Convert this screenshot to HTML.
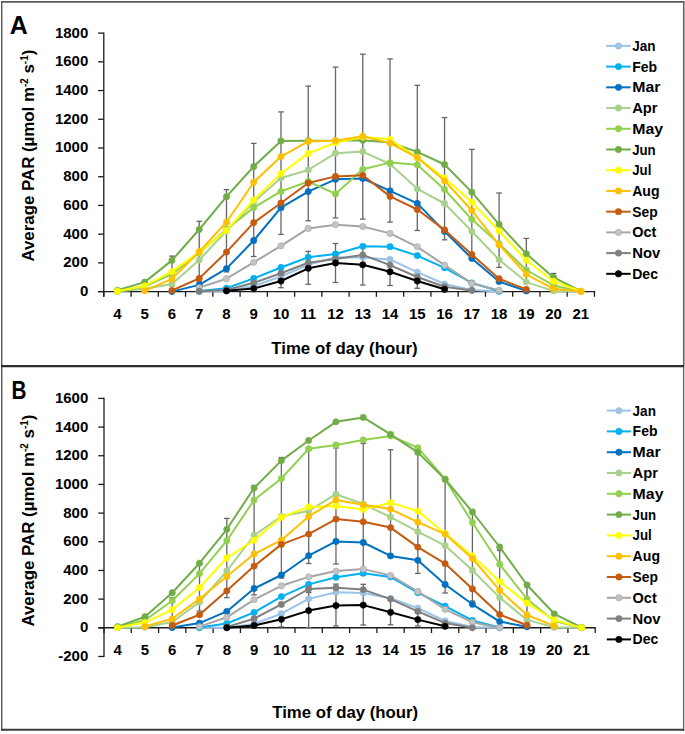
<!DOCTYPE html><html><head><meta charset="utf-8"><style>html,body{margin:0;padding:0;background:#fff;}svg{display:block;}text{font-family:"Liberation Sans",sans-serif;font-weight:bold;fill:#000;}</style></head><body>
<svg width="685" height="734" viewBox="0 0 685 734">
<rect x="0" y="0" width="685" height="734" fill="#fff"/>
<rect x="684" y="1" width="1" height="365" fill="#a8a8a8"/>
<rect x="684" y="366" width="1" height="365" fill="#d2d2d2"/>
<line x1="683.5" y1="1" x2="683.5" y2="730.8" stroke="#666" stroke-width="1.1"/>
<line x1="1.75" y1="1" x2="1.75" y2="730.8" stroke="#4a4a4a" stroke-width="1.3"/>
<line x1="1" y1="1.9" x2="684" y2="1.9" stroke="#5a5a5a" stroke-width="1.6"/>
<line x1="1" y1="729.8" x2="684" y2="729.8" stroke="#3c3c3c" stroke-width="2"/>
<line x1="1" y1="366.1" x2="684" y2="366.1" stroke="#2b2b2b" stroke-width="2.2"/>
<text x="9.7" y="33.7" font-size="25" textLength="18" lengthAdjust="spacingAndGlyphs">A</text>
<line x1="103.8" y1="32.5" x2="103.8" y2="296.8" stroke="#1c1c1c" stroke-width="1.3"/>
<line x1="98.1" y1="291.6" x2="103.8" y2="291.6" stroke="#1c1c1c" stroke-width="1.3"/>
<text x="88.3" y="296" font-size="15" text-anchor="end">0</text>
<line x1="98.1" y1="262.88" x2="103.8" y2="262.88" stroke="#1c1c1c" stroke-width="1.3"/>
<text x="88.3" y="267" font-size="15" text-anchor="end">200</text>
<line x1="98.1" y1="234.16" x2="103.8" y2="234.16" stroke="#1c1c1c" stroke-width="1.3"/>
<text x="88.3" y="239" font-size="15" text-anchor="end">400</text>
<line x1="98.1" y1="205.43" x2="103.8" y2="205.43" stroke="#1c1c1c" stroke-width="1.3"/>
<text x="88.3" y="210" font-size="15" text-anchor="end">600</text>
<line x1="98.1" y1="176.71" x2="103.8" y2="176.71" stroke="#1c1c1c" stroke-width="1.3"/>
<text x="88.3" y="181" font-size="15" text-anchor="end">800</text>
<line x1="98.1" y1="147.99" x2="103.8" y2="147.99" stroke="#1c1c1c" stroke-width="1.3"/>
<text x="88.3" y="152" font-size="15" text-anchor="end">1000</text>
<line x1="98.1" y1="119.27" x2="103.8" y2="119.27" stroke="#1c1c1c" stroke-width="1.3"/>
<text x="88.3" y="124" font-size="15" text-anchor="end">1200</text>
<line x1="98.1" y1="90.54" x2="103.8" y2="90.54" stroke="#1c1c1c" stroke-width="1.3"/>
<text x="88.3" y="95" font-size="15" text-anchor="end">1400</text>
<line x1="98.1" y1="61.82" x2="103.8" y2="61.82" stroke="#1c1c1c" stroke-width="1.3"/>
<text x="88.3" y="66" font-size="15" text-anchor="end">1600</text>
<line x1="98.1" y1="33.1" x2="103.8" y2="33.1" stroke="#1c1c1c" stroke-width="1.3"/>
<text x="88.3" y="38" font-size="15" text-anchor="end">1800</text>
<line x1="98.1" y1="291.6" x2="595.08" y2="291.6" stroke="#1c1c1c" stroke-width="1.4"/>
<line x1="103.8" y1="291.6" x2="103.8" y2="296.8" stroke="#1c1c1c" stroke-width="1.3"/>
<line x1="131.06" y1="291.6" x2="131.06" y2="296.8" stroke="#1c1c1c" stroke-width="1.3"/>
<line x1="158.32" y1="291.6" x2="158.32" y2="296.8" stroke="#1c1c1c" stroke-width="1.3"/>
<line x1="185.58" y1="291.6" x2="185.58" y2="296.8" stroke="#1c1c1c" stroke-width="1.3"/>
<line x1="212.84" y1="291.6" x2="212.84" y2="296.8" stroke="#1c1c1c" stroke-width="1.3"/>
<line x1="240.1" y1="291.6" x2="240.1" y2="296.8" stroke="#1c1c1c" stroke-width="1.3"/>
<line x1="267.36" y1="291.6" x2="267.36" y2="296.8" stroke="#1c1c1c" stroke-width="1.3"/>
<line x1="294.62" y1="291.6" x2="294.62" y2="296.8" stroke="#1c1c1c" stroke-width="1.3"/>
<line x1="321.88" y1="291.6" x2="321.88" y2="296.8" stroke="#1c1c1c" stroke-width="1.3"/>
<line x1="349.14" y1="291.6" x2="349.14" y2="296.8" stroke="#1c1c1c" stroke-width="1.3"/>
<line x1="376.4" y1="291.6" x2="376.4" y2="296.8" stroke="#1c1c1c" stroke-width="1.3"/>
<line x1="403.66" y1="291.6" x2="403.66" y2="296.8" stroke="#1c1c1c" stroke-width="1.3"/>
<line x1="430.92" y1="291.6" x2="430.92" y2="296.8" stroke="#1c1c1c" stroke-width="1.3"/>
<line x1="458.18" y1="291.6" x2="458.18" y2="296.8" stroke="#1c1c1c" stroke-width="1.3"/>
<line x1="485.44" y1="291.6" x2="485.44" y2="296.8" stroke="#1c1c1c" stroke-width="1.3"/>
<line x1="512.7" y1="291.6" x2="512.7" y2="296.8" stroke="#1c1c1c" stroke-width="1.3"/>
<line x1="539.96" y1="291.6" x2="539.96" y2="296.8" stroke="#1c1c1c" stroke-width="1.3"/>
<line x1="567.22" y1="291.6" x2="567.22" y2="296.8" stroke="#1c1c1c" stroke-width="1.3"/>
<line x1="594.48" y1="291.6" x2="594.48" y2="296.8" stroke="#1c1c1c" stroke-width="1.3"/>
<text x="117.43" y="319.2" font-size="15" text-anchor="middle">4</text>
<text x="144.69" y="319.2" font-size="15" text-anchor="middle">5</text>
<text x="171.95" y="319.2" font-size="15" text-anchor="middle">6</text>
<text x="199.21" y="319.2" font-size="15" text-anchor="middle">7</text>
<text x="226.47" y="319.2" font-size="15" text-anchor="middle">8</text>
<text x="253.73" y="319.2" font-size="15" text-anchor="middle">9</text>
<text x="280.99" y="319.2" font-size="15" text-anchor="middle">10</text>
<text x="308.25" y="319.2" font-size="15" text-anchor="middle">11</text>
<text x="335.51" y="319.2" font-size="15" text-anchor="middle">12</text>
<text x="362.77" y="319.2" font-size="15" text-anchor="middle">13</text>
<text x="390.03" y="319.2" font-size="15" text-anchor="middle">14</text>
<text x="417.29" y="319.2" font-size="15" text-anchor="middle">15</text>
<text x="444.55" y="319.2" font-size="15" text-anchor="middle">16</text>
<text x="471.81" y="319.2" font-size="15" text-anchor="middle">17</text>
<text x="499.07" y="319.2" font-size="15" text-anchor="middle">18</text>
<text x="526.33" y="319.2" font-size="15" text-anchor="middle">19</text>
<text x="553.59" y="319.2" font-size="15" text-anchor="middle">20</text>
<text x="580.85" y="319.2" font-size="15" text-anchor="middle">21</text>
<text x="271.3" y="353.5" font-size="17" textLength="146.3" lengthAdjust="spacingAndGlyphs">Time of day (hour)</text>
<text transform="translate(33.8,261.6) rotate(-90)" x="0" y="0" font-size="17" textLength="211.9" lengthAdjust="spacingAndGlyphs">Average PAR (µmol m<tspan font-size="10" dy="-5.5">-2</tspan><tspan dy="5.5"> s</tspan><tspan font-size="10" dy="-5.5">-1</tspan><tspan dy="5.5">)</tspan></text>
<line x1="171.95" y1="256.1" x2="171.95" y2="286.1" stroke="#666666" stroke-width="1.3"/>
<line x1="169.15" y1="256.1" x2="174.75" y2="256.1" stroke="#666666" stroke-width="1.3"/>
<line x1="169.15" y1="286.1" x2="174.75" y2="286.1" stroke="#666666" stroke-width="1.3"/>
<line x1="199.21" y1="221.3" x2="199.21" y2="281.7" stroke="#666666" stroke-width="1.3"/>
<line x1="196.41" y1="221.3" x2="202.01" y2="221.3" stroke="#666666" stroke-width="1.3"/>
<line x1="196.41" y1="281.7" x2="202.01" y2="281.7" stroke="#666666" stroke-width="1.3"/>
<line x1="226.47" y1="189.6" x2="226.47" y2="271.9" stroke="#666666" stroke-width="1.3"/>
<line x1="223.67" y1="189.6" x2="229.27" y2="189.6" stroke="#666666" stroke-width="1.3"/>
<line x1="223.67" y1="271.9" x2="229.27" y2="271.9" stroke="#666666" stroke-width="1.3"/>
<line x1="253.73" y1="143.4" x2="253.73" y2="256.5" stroke="#666666" stroke-width="1.3"/>
<line x1="250.93" y1="143.4" x2="256.53" y2="143.4" stroke="#666666" stroke-width="1.3"/>
<line x1="250.93" y1="256.5" x2="256.53" y2="256.5" stroke="#666666" stroke-width="1.3"/>
<line x1="280.99" y1="111.9" x2="280.99" y2="234.4" stroke="#666666" stroke-width="1.3"/>
<line x1="278.19" y1="111.9" x2="283.79" y2="111.9" stroke="#666666" stroke-width="1.3"/>
<line x1="278.19" y1="234.4" x2="283.79" y2="234.4" stroke="#666666" stroke-width="1.3"/>
<line x1="308.25" y1="86.1" x2="308.25" y2="220.8" stroke="#666666" stroke-width="1.3"/>
<line x1="305.45" y1="86.1" x2="311.05" y2="86.1" stroke="#666666" stroke-width="1.3"/>
<line x1="305.45" y1="220.8" x2="311.05" y2="220.8" stroke="#666666" stroke-width="1.3"/>
<line x1="335.51" y1="67.1" x2="335.51" y2="217.9" stroke="#666666" stroke-width="1.3"/>
<line x1="332.71" y1="67.1" x2="338.31" y2="67.1" stroke="#666666" stroke-width="1.3"/>
<line x1="332.71" y1="217.9" x2="338.31" y2="217.9" stroke="#666666" stroke-width="1.3"/>
<line x1="362.77" y1="54.2" x2="362.77" y2="219.1" stroke="#666666" stroke-width="1.3"/>
<line x1="359.97" y1="54.2" x2="365.57" y2="54.2" stroke="#666666" stroke-width="1.3"/>
<line x1="359.97" y1="219.1" x2="365.57" y2="219.1" stroke="#666666" stroke-width="1.3"/>
<line x1="390.03" y1="58.9" x2="390.03" y2="222.1" stroke="#666666" stroke-width="1.3"/>
<line x1="387.23" y1="58.9" x2="392.83" y2="58.9" stroke="#666666" stroke-width="1.3"/>
<line x1="387.23" y1="222.1" x2="392.83" y2="222.1" stroke="#666666" stroke-width="1.3"/>
<line x1="417.29" y1="85.3" x2="417.29" y2="230.5" stroke="#666666" stroke-width="1.3"/>
<line x1="414.49" y1="85.3" x2="420.09" y2="85.3" stroke="#666666" stroke-width="1.3"/>
<line x1="414.49" y1="230.5" x2="420.09" y2="230.5" stroke="#666666" stroke-width="1.3"/>
<line x1="444.55" y1="117.6" x2="444.55" y2="239.8" stroke="#666666" stroke-width="1.3"/>
<line x1="441.75" y1="117.6" x2="447.35" y2="117.6" stroke="#666666" stroke-width="1.3"/>
<line x1="441.75" y1="239.8" x2="447.35" y2="239.8" stroke="#666666" stroke-width="1.3"/>
<line x1="471.81" y1="149.4" x2="471.81" y2="254.8" stroke="#666666" stroke-width="1.3"/>
<line x1="469.01" y1="149.4" x2="474.61" y2="149.4" stroke="#666666" stroke-width="1.3"/>
<line x1="469.01" y1="254.8" x2="474.61" y2="254.8" stroke="#666666" stroke-width="1.3"/>
<line x1="499.07" y1="193" x2="499.07" y2="267.4" stroke="#666666" stroke-width="1.3"/>
<line x1="496.27" y1="193" x2="501.87" y2="193" stroke="#666666" stroke-width="1.3"/>
<line x1="496.27" y1="267.4" x2="501.87" y2="267.4" stroke="#666666" stroke-width="1.3"/>
<line x1="526.33" y1="238.4" x2="526.33" y2="282" stroke="#666666" stroke-width="1.3"/>
<line x1="523.53" y1="238.4" x2="529.13" y2="238.4" stroke="#666666" stroke-width="1.3"/>
<line x1="523.53" y1="282" x2="529.13" y2="282" stroke="#666666" stroke-width="1.3"/>
<line x1="553.59" y1="273.5" x2="553.59" y2="289" stroke="#666666" stroke-width="1.3"/>
<line x1="550.79" y1="273.5" x2="556.39" y2="273.5" stroke="#666666" stroke-width="1.3"/>
<line x1="550.79" y1="289" x2="556.39" y2="289" stroke="#666666" stroke-width="1.3"/>
<line x1="253.73" y1="285.6" x2="253.73" y2="291.6" stroke="#666666" stroke-width="1.3"/>
<line x1="250.93" y1="285.6" x2="256.53" y2="285.6" stroke="#666666" stroke-width="1.3"/>
<line x1="250.93" y1="291.6" x2="256.53" y2="291.6" stroke="#666666" stroke-width="1.3"/>
<line x1="280.99" y1="274.3" x2="280.99" y2="287.7" stroke="#666666" stroke-width="1.3"/>
<line x1="278.19" y1="274.3" x2="283.79" y2="274.3" stroke="#666666" stroke-width="1.3"/>
<line x1="278.19" y1="287.7" x2="283.79" y2="287.7" stroke="#666666" stroke-width="1.3"/>
<line x1="308.25" y1="251.4" x2="308.25" y2="284.3" stroke="#666666" stroke-width="1.3"/>
<line x1="305.45" y1="251.4" x2="311.05" y2="251.4" stroke="#666666" stroke-width="1.3"/>
<line x1="305.45" y1="284.3" x2="311.05" y2="284.3" stroke="#666666" stroke-width="1.3"/>
<line x1="335.51" y1="243.5" x2="335.51" y2="282.5" stroke="#666666" stroke-width="1.3"/>
<line x1="332.71" y1="243.5" x2="338.31" y2="243.5" stroke="#666666" stroke-width="1.3"/>
<line x1="332.71" y1="282.5" x2="338.31" y2="282.5" stroke="#666666" stroke-width="1.3"/>
<line x1="362.77" y1="244.6" x2="362.77" y2="285" stroke="#666666" stroke-width="1.3"/>
<line x1="359.97" y1="244.6" x2="365.57" y2="244.6" stroke="#666666" stroke-width="1.3"/>
<line x1="359.97" y1="285" x2="365.57" y2="285" stroke="#666666" stroke-width="1.3"/>
<line x1="390.03" y1="258.1" x2="390.03" y2="285.5" stroke="#666666" stroke-width="1.3"/>
<line x1="387.23" y1="258.1" x2="392.83" y2="258.1" stroke="#666666" stroke-width="1.3"/>
<line x1="387.23" y1="285.5" x2="392.83" y2="285.5" stroke="#666666" stroke-width="1.3"/>
<line x1="417.29" y1="273.7" x2="417.29" y2="288.3" stroke="#666666" stroke-width="1.3"/>
<line x1="414.49" y1="273.7" x2="420.09" y2="273.7" stroke="#666666" stroke-width="1.3"/>
<line x1="414.49" y1="288.3" x2="420.09" y2="288.3" stroke="#666666" stroke-width="1.3"/>
<line x1="444.55" y1="286.5" x2="444.55" y2="291.6" stroke="#666666" stroke-width="1.3"/>
<line x1="441.75" y1="286.5" x2="447.35" y2="286.5" stroke="#666666" stroke-width="1.3"/>
<line x1="441.75" y1="291.6" x2="447.35" y2="291.6" stroke="#666666" stroke-width="1.3"/>
<polyline points="199.21,291.6 226.47,291 253.73,286 280.99,276.5 308.25,264.8 335.51,257.3 362.77,257.4 390.03,259.5 417.29,272.2 444.55,284 471.81,290 499.07,291.6" fill="none" stroke="#9DC3E6" stroke-width="2" stroke-linejoin="round"/>
<circle cx="199.21" cy="291.6" r="3.15" fill="#9DC3E6" stroke="#9DC3E6" stroke-width="0.6"/>
<circle cx="226.47" cy="291" r="3.15" fill="#9DC3E6" stroke="#9DC3E6" stroke-width="0.6"/>
<circle cx="253.73" cy="286" r="3.15" fill="#9DC3E6" stroke="#9DC3E6" stroke-width="0.6"/>
<circle cx="280.99" cy="276.5" r="3.15" fill="#9DC3E6" stroke="#9DC3E6" stroke-width="0.6"/>
<circle cx="308.25" cy="264.8" r="3.15" fill="#9DC3E6" stroke="#9DC3E6" stroke-width="0.6"/>
<circle cx="335.51" cy="257.3" r="3.15" fill="#9DC3E6" stroke="#9DC3E6" stroke-width="0.6"/>
<circle cx="362.77" cy="257.4" r="3.15" fill="#9DC3E6" stroke="#9DC3E6" stroke-width="0.6"/>
<circle cx="390.03" cy="259.5" r="3.15" fill="#9DC3E6" stroke="#9DC3E6" stroke-width="0.6"/>
<circle cx="417.29" cy="272.2" r="3.15" fill="#9DC3E6" stroke="#9DC3E6" stroke-width="0.6"/>
<circle cx="444.55" cy="284" r="3.15" fill="#9DC3E6" stroke="#9DC3E6" stroke-width="0.6"/>
<circle cx="471.81" cy="290" r="3.15" fill="#9DC3E6" stroke="#9DC3E6" stroke-width="0.6"/>
<circle cx="499.07" cy="291.6" r="3.15" fill="#9DC3E6" stroke="#9DC3E6" stroke-width="0.6"/>
<polyline points="199.21,291 226.47,288.2 253.73,278.4 280.99,267.5 308.25,257.2 335.51,254 362.77,246.3 390.03,246.7 417.29,255.6 444.55,267.8 471.81,283 499.07,291" fill="none" stroke="#00B0F0" stroke-width="2" stroke-linejoin="round"/>
<circle cx="199.21" cy="291" r="3.15" fill="#00B0F0" stroke="#00B0F0" stroke-width="0.6"/>
<circle cx="226.47" cy="288.2" r="3.15" fill="#00B0F0" stroke="#00B0F0" stroke-width="0.6"/>
<circle cx="253.73" cy="278.4" r="3.15" fill="#00B0F0" stroke="#00B0F0" stroke-width="0.6"/>
<circle cx="280.99" cy="267.5" r="3.15" fill="#00B0F0" stroke="#00B0F0" stroke-width="0.6"/>
<circle cx="308.25" cy="257.2" r="3.15" fill="#00B0F0" stroke="#00B0F0" stroke-width="0.6"/>
<circle cx="335.51" cy="254" r="3.15" fill="#00B0F0" stroke="#00B0F0" stroke-width="0.6"/>
<circle cx="362.77" cy="246.3" r="3.15" fill="#00B0F0" stroke="#00B0F0" stroke-width="0.6"/>
<circle cx="390.03" cy="246.7" r="3.15" fill="#00B0F0" stroke="#00B0F0" stroke-width="0.6"/>
<circle cx="417.29" cy="255.6" r="3.15" fill="#00B0F0" stroke="#00B0F0" stroke-width="0.6"/>
<circle cx="444.55" cy="267.8" r="3.15" fill="#00B0F0" stroke="#00B0F0" stroke-width="0.6"/>
<circle cx="471.81" cy="283" r="3.15" fill="#00B0F0" stroke="#00B0F0" stroke-width="0.6"/>
<circle cx="499.07" cy="291" r="3.15" fill="#00B0F0" stroke="#00B0F0" stroke-width="0.6"/>
<polyline points="171.95,291.6 199.21,284.9 226.47,268.6 253.73,240.5 280.99,207.7 308.25,191.6 335.51,179.3 362.77,178.5 390.03,190.8 417.29,203.4 444.55,231.4 471.81,258.4 499.07,281.6 526.33,290.9" fill="none" stroke="#0070C0" stroke-width="2" stroke-linejoin="round"/>
<circle cx="171.95" cy="291.6" r="3.15" fill="#0070C0" stroke="#0070C0" stroke-width="0.6"/>
<circle cx="199.21" cy="284.9" r="3.15" fill="#0070C0" stroke="#0070C0" stroke-width="0.6"/>
<circle cx="226.47" cy="268.6" r="3.15" fill="#0070C0" stroke="#0070C0" stroke-width="0.6"/>
<circle cx="253.73" cy="240.5" r="3.15" fill="#0070C0" stroke="#0070C0" stroke-width="0.6"/>
<circle cx="280.99" cy="207.7" r="3.15" fill="#0070C0" stroke="#0070C0" stroke-width="0.6"/>
<circle cx="308.25" cy="191.6" r="3.15" fill="#0070C0" stroke="#0070C0" stroke-width="0.6"/>
<circle cx="335.51" cy="179.3" r="3.15" fill="#0070C0" stroke="#0070C0" stroke-width="0.6"/>
<circle cx="362.77" cy="178.5" r="3.15" fill="#0070C0" stroke="#0070C0" stroke-width="0.6"/>
<circle cx="390.03" cy="190.8" r="3.15" fill="#0070C0" stroke="#0070C0" stroke-width="0.6"/>
<circle cx="417.29" cy="203.4" r="3.15" fill="#0070C0" stroke="#0070C0" stroke-width="0.6"/>
<circle cx="444.55" cy="231.4" r="3.15" fill="#0070C0" stroke="#0070C0" stroke-width="0.6"/>
<circle cx="471.81" cy="258.4" r="3.15" fill="#0070C0" stroke="#0070C0" stroke-width="0.6"/>
<circle cx="499.07" cy="281.6" r="3.15" fill="#0070C0" stroke="#0070C0" stroke-width="0.6"/>
<circle cx="526.33" cy="290.9" r="3.15" fill="#0070C0" stroke="#0070C0" stroke-width="0.6"/>
<polyline points="117.43,291.4 144.69,288.8 171.95,284 199.21,260 226.47,231 253.73,202 280.99,178 308.25,170 335.51,153.2 362.77,151.6 390.03,164 417.29,188.8 444.55,203.5 471.81,231.3 499.07,259.7 526.33,282.1 553.59,290.9 580.85,291.5" fill="none" stroke="#A9D18E" stroke-width="2" stroke-linejoin="round"/>
<circle cx="117.43" cy="291.4" r="3.15" fill="#A9D18E" stroke="#A9D18E" stroke-width="0.6"/>
<circle cx="144.69" cy="288.8" r="3.15" fill="#A9D18E" stroke="#A9D18E" stroke-width="0.6"/>
<circle cx="171.95" cy="284" r="3.15" fill="#A9D18E" stroke="#A9D18E" stroke-width="0.6"/>
<circle cx="199.21" cy="260" r="3.15" fill="#A9D18E" stroke="#A9D18E" stroke-width="0.6"/>
<circle cx="226.47" cy="231" r="3.15" fill="#A9D18E" stroke="#A9D18E" stroke-width="0.6"/>
<circle cx="253.73" cy="202" r="3.15" fill="#A9D18E" stroke="#A9D18E" stroke-width="0.6"/>
<circle cx="280.99" cy="178" r="3.15" fill="#A9D18E" stroke="#A9D18E" stroke-width="0.6"/>
<circle cx="308.25" cy="170" r="3.15" fill="#A9D18E" stroke="#A9D18E" stroke-width="0.6"/>
<circle cx="335.51" cy="153.2" r="3.15" fill="#A9D18E" stroke="#A9D18E" stroke-width="0.6"/>
<circle cx="362.77" cy="151.6" r="3.15" fill="#A9D18E" stroke="#A9D18E" stroke-width="0.6"/>
<circle cx="390.03" cy="164" r="3.15" fill="#A9D18E" stroke="#A9D18E" stroke-width="0.6"/>
<circle cx="417.29" cy="188.8" r="3.15" fill="#A9D18E" stroke="#A9D18E" stroke-width="0.6"/>
<circle cx="444.55" cy="203.5" r="3.15" fill="#A9D18E" stroke="#A9D18E" stroke-width="0.6"/>
<circle cx="471.81" cy="231.3" r="3.15" fill="#A9D18E" stroke="#A9D18E" stroke-width="0.6"/>
<circle cx="499.07" cy="259.7" r="3.15" fill="#A9D18E" stroke="#A9D18E" stroke-width="0.6"/>
<circle cx="526.33" cy="282.1" r="3.15" fill="#A9D18E" stroke="#A9D18E" stroke-width="0.6"/>
<circle cx="553.59" cy="290.9" r="3.15" fill="#A9D18E" stroke="#A9D18E" stroke-width="0.6"/>
<circle cx="580.85" cy="291.5" r="3.15" fill="#A9D18E" stroke="#A9D18E" stroke-width="0.6"/>
<polyline points="117.43,291.3 144.69,286.5 171.95,274.2 199.21,253 226.47,229.2 253.73,207.6 280.99,191.4 308.25,181.5 335.51,193.9 362.77,169.3 390.03,162.6 417.29,164.7 444.55,189.5 471.81,219.3 499.07,243.7 526.33,270 553.59,285.4 580.85,291.4" fill="none" stroke="#92D050" stroke-width="2" stroke-linejoin="round"/>
<circle cx="117.43" cy="291.3" r="3.15" fill="#92D050" stroke="#92D050" stroke-width="0.6"/>
<circle cx="144.69" cy="286.5" r="3.15" fill="#92D050" stroke="#92D050" stroke-width="0.6"/>
<circle cx="171.95" cy="274.2" r="3.15" fill="#92D050" stroke="#92D050" stroke-width="0.6"/>
<circle cx="199.21" cy="253" r="3.15" fill="#92D050" stroke="#92D050" stroke-width="0.6"/>
<circle cx="226.47" cy="229.2" r="3.15" fill="#92D050" stroke="#92D050" stroke-width="0.6"/>
<circle cx="253.73" cy="207.6" r="3.15" fill="#92D050" stroke="#92D050" stroke-width="0.6"/>
<circle cx="280.99" cy="191.4" r="3.15" fill="#92D050" stroke="#92D050" stroke-width="0.6"/>
<circle cx="308.25" cy="181.5" r="3.15" fill="#92D050" stroke="#92D050" stroke-width="0.6"/>
<circle cx="335.51" cy="193.9" r="3.15" fill="#92D050" stroke="#92D050" stroke-width="0.6"/>
<circle cx="362.77" cy="169.3" r="3.15" fill="#92D050" stroke="#92D050" stroke-width="0.6"/>
<circle cx="390.03" cy="162.6" r="3.15" fill="#92D050" stroke="#92D050" stroke-width="0.6"/>
<circle cx="417.29" cy="164.7" r="3.15" fill="#92D050" stroke="#92D050" stroke-width="0.6"/>
<circle cx="444.55" cy="189.5" r="3.15" fill="#92D050" stroke="#92D050" stroke-width="0.6"/>
<circle cx="471.81" cy="219.3" r="3.15" fill="#92D050" stroke="#92D050" stroke-width="0.6"/>
<circle cx="499.07" cy="243.7" r="3.15" fill="#92D050" stroke="#92D050" stroke-width="0.6"/>
<circle cx="526.33" cy="270" r="3.15" fill="#92D050" stroke="#92D050" stroke-width="0.6"/>
<circle cx="553.59" cy="285.4" r="3.15" fill="#92D050" stroke="#92D050" stroke-width="0.6"/>
<circle cx="580.85" cy="291.4" r="3.15" fill="#92D050" stroke="#92D050" stroke-width="0.6"/>
<polyline points="117.43,290.3 144.69,282.1 171.95,260.4 199.21,229.5 226.47,196.7 253.73,166.5 280.99,140.9 308.25,140.7 335.51,140.7 362.77,140.3 390.03,142.5 417.29,151.9 444.55,164.5 471.81,192.1 499.07,224.3 526.33,253.8 553.59,277.4 580.85,291.2" fill="none" stroke="#70AD47" stroke-width="2" stroke-linejoin="round"/>
<circle cx="117.43" cy="290.3" r="3.15" fill="#70AD47" stroke="#70AD47" stroke-width="0.6"/>
<circle cx="144.69" cy="282.1" r="3.15" fill="#70AD47" stroke="#70AD47" stroke-width="0.6"/>
<circle cx="171.95" cy="260.4" r="3.15" fill="#70AD47" stroke="#70AD47" stroke-width="0.6"/>
<circle cx="199.21" cy="229.5" r="3.15" fill="#70AD47" stroke="#70AD47" stroke-width="0.6"/>
<circle cx="226.47" cy="196.7" r="3.15" fill="#70AD47" stroke="#70AD47" stroke-width="0.6"/>
<circle cx="253.73" cy="166.5" r="3.15" fill="#70AD47" stroke="#70AD47" stroke-width="0.6"/>
<circle cx="280.99" cy="140.9" r="3.15" fill="#70AD47" stroke="#70AD47" stroke-width="0.6"/>
<circle cx="308.25" cy="140.7" r="3.15" fill="#70AD47" stroke="#70AD47" stroke-width="0.6"/>
<circle cx="335.51" cy="140.7" r="3.15" fill="#70AD47" stroke="#70AD47" stroke-width="0.6"/>
<circle cx="362.77" cy="140.3" r="3.15" fill="#70AD47" stroke="#70AD47" stroke-width="0.6"/>
<circle cx="390.03" cy="142.5" r="3.15" fill="#70AD47" stroke="#70AD47" stroke-width="0.6"/>
<circle cx="417.29" cy="151.9" r="3.15" fill="#70AD47" stroke="#70AD47" stroke-width="0.6"/>
<circle cx="444.55" cy="164.5" r="3.15" fill="#70AD47" stroke="#70AD47" stroke-width="0.6"/>
<circle cx="471.81" cy="192.1" r="3.15" fill="#70AD47" stroke="#70AD47" stroke-width="0.6"/>
<circle cx="499.07" cy="224.3" r="3.15" fill="#70AD47" stroke="#70AD47" stroke-width="0.6"/>
<circle cx="526.33" cy="253.8" r="3.15" fill="#70AD47" stroke="#70AD47" stroke-width="0.6"/>
<circle cx="553.59" cy="277.4" r="3.15" fill="#70AD47" stroke="#70AD47" stroke-width="0.6"/>
<circle cx="580.85" cy="291.2" r="3.15" fill="#70AD47" stroke="#70AD47" stroke-width="0.6"/>
<polyline points="117.43,291.1 144.69,285.9 171.95,271.6 199.21,252 226.47,230.5 253.73,200 280.99,173.6 308.25,153.4 335.51,142.8 362.77,137 390.03,139.3 417.29,157.5 444.55,178.1 471.81,202.1 499.07,231 526.33,260.2 553.59,281.3 580.85,291.3" fill="none" stroke="#FFFF00" stroke-width="2" stroke-linejoin="round"/>
<circle cx="117.43" cy="291.1" r="3.15" fill="#FFFF00" stroke="#FFFF00" stroke-width="0.6"/>
<circle cx="144.69" cy="285.9" r="3.15" fill="#FFFF00" stroke="#FFFF00" stroke-width="0.6"/>
<circle cx="171.95" cy="271.6" r="3.15" fill="#FFFF00" stroke="#FFFF00" stroke-width="0.6"/>
<circle cx="199.21" cy="252" r="3.15" fill="#FFFF00" stroke="#FFFF00" stroke-width="0.6"/>
<circle cx="226.47" cy="230.5" r="3.15" fill="#FFFF00" stroke="#FFFF00" stroke-width="0.6"/>
<circle cx="253.73" cy="200" r="3.15" fill="#FFFF00" stroke="#FFFF00" stroke-width="0.6"/>
<circle cx="280.99" cy="173.6" r="3.15" fill="#FFFF00" stroke="#FFFF00" stroke-width="0.6"/>
<circle cx="308.25" cy="153.4" r="3.15" fill="#FFFF00" stroke="#FFFF00" stroke-width="0.6"/>
<circle cx="335.51" cy="142.8" r="3.15" fill="#FFFF00" stroke="#FFFF00" stroke-width="0.6"/>
<circle cx="362.77" cy="137" r="3.15" fill="#FFFF00" stroke="#FFFF00" stroke-width="0.6"/>
<circle cx="390.03" cy="139.3" r="3.15" fill="#FFFF00" stroke="#FFFF00" stroke-width="0.6"/>
<circle cx="417.29" cy="157.5" r="3.15" fill="#FFFF00" stroke="#FFFF00" stroke-width="0.6"/>
<circle cx="444.55" cy="178.1" r="3.15" fill="#FFFF00" stroke="#FFFF00" stroke-width="0.6"/>
<circle cx="471.81" cy="202.1" r="3.15" fill="#FFFF00" stroke="#FFFF00" stroke-width="0.6"/>
<circle cx="499.07" cy="231" r="3.15" fill="#FFFF00" stroke="#FFFF00" stroke-width="0.6"/>
<circle cx="526.33" cy="260.2" r="3.15" fill="#FFFF00" stroke="#FFFF00" stroke-width="0.6"/>
<circle cx="553.59" cy="281.3" r="3.15" fill="#FFFF00" stroke="#FFFF00" stroke-width="0.6"/>
<circle cx="580.85" cy="291.3" r="3.15" fill="#FFFF00" stroke="#FFFF00" stroke-width="0.6"/>
<polyline points="144.69,290.8 171.95,278.9 199.21,251.6 226.47,222.2 253.73,182.2 280.99,156.6 308.25,141.4 335.51,140.7 362.77,136.2 390.03,143.1 417.29,157.6 444.55,180.8 471.81,210.5 499.07,244.9 526.33,274.3 553.59,288.8 580.85,291.4" fill="none" stroke="#FFC000" stroke-width="2" stroke-linejoin="round"/>
<circle cx="144.69" cy="290.8" r="3.15" fill="#FFC000" stroke="#FFC000" stroke-width="0.6"/>
<circle cx="171.95" cy="278.9" r="3.15" fill="#FFC000" stroke="#FFC000" stroke-width="0.6"/>
<circle cx="199.21" cy="251.6" r="3.15" fill="#FFC000" stroke="#FFC000" stroke-width="0.6"/>
<circle cx="226.47" cy="222.2" r="3.15" fill="#FFC000" stroke="#FFC000" stroke-width="0.6"/>
<circle cx="253.73" cy="182.2" r="3.15" fill="#FFC000" stroke="#FFC000" stroke-width="0.6"/>
<circle cx="280.99" cy="156.6" r="3.15" fill="#FFC000" stroke="#FFC000" stroke-width="0.6"/>
<circle cx="308.25" cy="141.4" r="3.15" fill="#FFC000" stroke="#FFC000" stroke-width="0.6"/>
<circle cx="335.51" cy="140.7" r="3.15" fill="#FFC000" stroke="#FFC000" stroke-width="0.6"/>
<circle cx="362.77" cy="136.2" r="3.15" fill="#FFC000" stroke="#FFC000" stroke-width="0.6"/>
<circle cx="390.03" cy="143.1" r="3.15" fill="#FFC000" stroke="#FFC000" stroke-width="0.6"/>
<circle cx="417.29" cy="157.6" r="3.15" fill="#FFC000" stroke="#FFC000" stroke-width="0.6"/>
<circle cx="444.55" cy="180.8" r="3.15" fill="#FFC000" stroke="#FFC000" stroke-width="0.6"/>
<circle cx="471.81" cy="210.5" r="3.15" fill="#FFC000" stroke="#FFC000" stroke-width="0.6"/>
<circle cx="499.07" cy="244.9" r="3.15" fill="#FFC000" stroke="#FFC000" stroke-width="0.6"/>
<circle cx="526.33" cy="274.3" r="3.15" fill="#FFC000" stroke="#FFC000" stroke-width="0.6"/>
<circle cx="553.59" cy="288.8" r="3.15" fill="#FFC000" stroke="#FFC000" stroke-width="0.6"/>
<circle cx="580.85" cy="291.4" r="3.15" fill="#FFC000" stroke="#FFC000" stroke-width="0.6"/>
<polyline points="171.95,290.5 199.21,278.4 226.47,252.1 253.73,222.6 280.99,203 308.25,183 335.51,176.4 362.77,175.3 390.03,196.4 417.29,209.5 444.55,229.9 471.81,254.5 499.07,278.7 526.33,289.4" fill="none" stroke="#C55A11" stroke-width="2" stroke-linejoin="round"/>
<circle cx="171.95" cy="290.5" r="3.15" fill="#C55A11" stroke="#C55A11" stroke-width="0.6"/>
<circle cx="199.21" cy="278.4" r="3.15" fill="#C55A11" stroke="#C55A11" stroke-width="0.6"/>
<circle cx="226.47" cy="252.1" r="3.15" fill="#C55A11" stroke="#C55A11" stroke-width="0.6"/>
<circle cx="253.73" cy="222.6" r="3.15" fill="#C55A11" stroke="#C55A11" stroke-width="0.6"/>
<circle cx="280.99" cy="203" r="3.15" fill="#C55A11" stroke="#C55A11" stroke-width="0.6"/>
<circle cx="308.25" cy="183" r="3.15" fill="#C55A11" stroke="#C55A11" stroke-width="0.6"/>
<circle cx="335.51" cy="176.4" r="3.15" fill="#C55A11" stroke="#C55A11" stroke-width="0.6"/>
<circle cx="362.77" cy="175.3" r="3.15" fill="#C55A11" stroke="#C55A11" stroke-width="0.6"/>
<circle cx="390.03" cy="196.4" r="3.15" fill="#C55A11" stroke="#C55A11" stroke-width="0.6"/>
<circle cx="417.29" cy="209.5" r="3.15" fill="#C55A11" stroke="#C55A11" stroke-width="0.6"/>
<circle cx="444.55" cy="229.9" r="3.15" fill="#C55A11" stroke="#C55A11" stroke-width="0.6"/>
<circle cx="471.81" cy="254.5" r="3.15" fill="#C55A11" stroke="#C55A11" stroke-width="0.6"/>
<circle cx="499.07" cy="278.7" r="3.15" fill="#C55A11" stroke="#C55A11" stroke-width="0.6"/>
<circle cx="526.33" cy="289.4" r="3.15" fill="#C55A11" stroke="#C55A11" stroke-width="0.6"/>
<polyline points="199.21,287.6 226.47,278.7 253.73,262.3 280.99,245.8 308.25,228.4 335.51,224.7 362.77,226.6 390.03,233.4 417.29,246.8 444.55,265.2 471.81,283.4 499.07,290.4" fill="none" stroke="#A5A5A5" stroke-width="2" stroke-linejoin="round"/>
<circle cx="199.21" cy="287.6" r="3.15" fill="#C4C4C4" stroke="#A5A5A5" stroke-width="0.6"/>
<circle cx="226.47" cy="278.7" r="3.15" fill="#C4C4C4" stroke="#A5A5A5" stroke-width="0.6"/>
<circle cx="253.73" cy="262.3" r="3.15" fill="#C4C4C4" stroke="#A5A5A5" stroke-width="0.6"/>
<circle cx="280.99" cy="245.8" r="3.15" fill="#C4C4C4" stroke="#A5A5A5" stroke-width="0.6"/>
<circle cx="308.25" cy="228.4" r="3.15" fill="#C4C4C4" stroke="#A5A5A5" stroke-width="0.6"/>
<circle cx="335.51" cy="224.7" r="3.15" fill="#C4C4C4" stroke="#A5A5A5" stroke-width="0.6"/>
<circle cx="362.77" cy="226.6" r="3.15" fill="#C4C4C4" stroke="#A5A5A5" stroke-width="0.6"/>
<circle cx="390.03" cy="233.4" r="3.15" fill="#C4C4C4" stroke="#A5A5A5" stroke-width="0.6"/>
<circle cx="417.29" cy="246.8" r="3.15" fill="#C4C4C4" stroke="#A5A5A5" stroke-width="0.6"/>
<circle cx="444.55" cy="265.2" r="3.15" fill="#C4C4C4" stroke="#A5A5A5" stroke-width="0.6"/>
<circle cx="471.81" cy="283.4" r="3.15" fill="#C4C4C4" stroke="#A5A5A5" stroke-width="0.6"/>
<circle cx="499.07" cy="290.4" r="3.15" fill="#C4C4C4" stroke="#A5A5A5" stroke-width="0.6"/>
<polyline points="199.21,291.2 226.47,290 253.73,282.8 280.99,273.2 308.25,262.8 335.51,259 362.77,254.9 390.03,265.1 417.29,277 444.55,286.7 471.81,290.4" fill="none" stroke="#7F7F7F" stroke-width="2" stroke-linejoin="round"/>
<circle cx="199.21" cy="291.2" r="3.15" fill="#7F7F7F" stroke="#7F7F7F" stroke-width="0.6"/>
<circle cx="226.47" cy="290" r="3.15" fill="#7F7F7F" stroke="#7F7F7F" stroke-width="0.6"/>
<circle cx="253.73" cy="282.8" r="3.15" fill="#7F7F7F" stroke="#7F7F7F" stroke-width="0.6"/>
<circle cx="280.99" cy="273.2" r="3.15" fill="#7F7F7F" stroke="#7F7F7F" stroke-width="0.6"/>
<circle cx="308.25" cy="262.8" r="3.15" fill="#7F7F7F" stroke="#7F7F7F" stroke-width="0.6"/>
<circle cx="335.51" cy="259" r="3.15" fill="#7F7F7F" stroke="#7F7F7F" stroke-width="0.6"/>
<circle cx="362.77" cy="254.9" r="3.15" fill="#7F7F7F" stroke="#7F7F7F" stroke-width="0.6"/>
<circle cx="390.03" cy="265.1" r="3.15" fill="#7F7F7F" stroke="#7F7F7F" stroke-width="0.6"/>
<circle cx="417.29" cy="277" r="3.15" fill="#7F7F7F" stroke="#7F7F7F" stroke-width="0.6"/>
<circle cx="444.55" cy="286.7" r="3.15" fill="#7F7F7F" stroke="#7F7F7F" stroke-width="0.6"/>
<circle cx="471.81" cy="290.4" r="3.15" fill="#7F7F7F" stroke="#7F7F7F" stroke-width="0.6"/>
<polyline points="226.47,290.8 253.73,288.6 280.99,281 308.25,268.3 335.51,263 362.77,264.8 390.03,271.8 417.29,281 444.55,289.3" fill="none" stroke="#000000" stroke-width="2" stroke-linejoin="round"/>
<circle cx="226.47" cy="290.8" r="3.15" fill="#000000" stroke="#000000" stroke-width="0.6"/>
<circle cx="253.73" cy="288.6" r="3.15" fill="#000000" stroke="#000000" stroke-width="0.6"/>
<circle cx="280.99" cy="281" r="3.15" fill="#000000" stroke="#000000" stroke-width="0.6"/>
<circle cx="308.25" cy="268.3" r="3.15" fill="#000000" stroke="#000000" stroke-width="0.6"/>
<circle cx="335.51" cy="263" r="3.15" fill="#000000" stroke="#000000" stroke-width="0.6"/>
<circle cx="362.77" cy="264.8" r="3.15" fill="#000000" stroke="#000000" stroke-width="0.6"/>
<circle cx="390.03" cy="271.8" r="3.15" fill="#000000" stroke="#000000" stroke-width="0.6"/>
<circle cx="417.29" cy="281" r="3.15" fill="#000000" stroke="#000000" stroke-width="0.6"/>
<circle cx="444.55" cy="289.3" r="3.15" fill="#000000" stroke="#000000" stroke-width="0.6"/>
<line x1="606.2" y1="45.9" x2="630.7" y2="45.9" stroke="#9DC3E6" stroke-width="2"/>
<circle cx="618.45" cy="45.9" r="3.2" fill="#9DC3E6" stroke="#9DC3E6" stroke-width="0.6"/>
<text x="632.2" y="50.9" font-size="14.5" textLength="23.3" lengthAdjust="spacingAndGlyphs">Jan</text>
<line x1="606.2" y1="66.62" x2="630.7" y2="66.62" stroke="#00B0F0" stroke-width="2"/>
<circle cx="618.45" cy="66.62" r="3.2" fill="#00B0F0" stroke="#00B0F0" stroke-width="0.6"/>
<text x="632.2" y="71.62" font-size="14.5" textLength="24.9" lengthAdjust="spacingAndGlyphs">Feb</text>
<line x1="606.2" y1="87.34" x2="630.7" y2="87.34" stroke="#0070C0" stroke-width="2"/>
<circle cx="618.45" cy="87.34" r="3.2" fill="#0070C0" stroke="#0070C0" stroke-width="0.6"/>
<text x="632.2" y="92.34" font-size="14.5" textLength="28.2" lengthAdjust="spacingAndGlyphs">Mar</text>
<line x1="606.2" y1="108.06" x2="630.7" y2="108.06" stroke="#A9D18E" stroke-width="2"/>
<circle cx="618.45" cy="108.06" r="3.2" fill="#A9D18E" stroke="#A9D18E" stroke-width="0.6"/>
<text x="632.2" y="113.06" font-size="14.5" textLength="25.4" lengthAdjust="spacingAndGlyphs">Apr</text>
<line x1="606.2" y1="128.78" x2="630.7" y2="128.78" stroke="#92D050" stroke-width="2"/>
<circle cx="618.45" cy="128.78" r="3.2" fill="#92D050" stroke="#92D050" stroke-width="0.6"/>
<text x="632.2" y="133.78" font-size="14.5" textLength="30.9" lengthAdjust="spacingAndGlyphs">May</text>
<line x1="606.2" y1="149.5" x2="630.7" y2="149.5" stroke="#70AD47" stroke-width="2"/>
<circle cx="618.45" cy="149.5" r="3.2" fill="#70AD47" stroke="#70AD47" stroke-width="0.6"/>
<text x="632.2" y="154.5" font-size="14.5" textLength="23.5" lengthAdjust="spacingAndGlyphs">Jun</text>
<line x1="606.2" y1="170.22" x2="630.7" y2="170.22" stroke="#FFFF00" stroke-width="2"/>
<circle cx="618.45" cy="170.22" r="3.2" fill="#FFFF00" stroke="#FFFF00" stroke-width="0.6"/>
<text x="632.2" y="175.22" font-size="14.5" textLength="19.2" lengthAdjust="spacingAndGlyphs">Jul</text>
<line x1="606.2" y1="190.94" x2="630.7" y2="190.94" stroke="#FFC000" stroke-width="2"/>
<circle cx="618.45" cy="190.94" r="3.2" fill="#FFC000" stroke="#FFC000" stroke-width="0.6"/>
<text x="632.2" y="195.94" font-size="14.5" textLength="27.4" lengthAdjust="spacingAndGlyphs">Aug</text>
<line x1="606.2" y1="211.66" x2="630.7" y2="211.66" stroke="#C55A11" stroke-width="2"/>
<circle cx="618.45" cy="211.66" r="3.2" fill="#C55A11" stroke="#C55A11" stroke-width="0.6"/>
<text x="632.2" y="216.66" font-size="14.5" textLength="25.4" lengthAdjust="spacingAndGlyphs">Sep</text>
<line x1="606.2" y1="232.38" x2="630.7" y2="232.38" stroke="#A5A5A5" stroke-width="2"/>
<circle cx="618.45" cy="232.38" r="3.2" fill="#C4C4C4" stroke="#A5A5A5" stroke-width="0.6"/>
<text x="632.2" y="237.38" font-size="14.5" textLength="24.1" lengthAdjust="spacingAndGlyphs">Oct</text>
<line x1="606.2" y1="253.1" x2="630.7" y2="253.1" stroke="#7F7F7F" stroke-width="2"/>
<circle cx="618.45" cy="253.1" r="3.2" fill="#7F7F7F" stroke="#7F7F7F" stroke-width="0.6"/>
<text x="632.2" y="258.1" font-size="14.5" textLength="28" lengthAdjust="spacingAndGlyphs">Nov</text>
<line x1="606.2" y1="273.82" x2="630.7" y2="273.82" stroke="#000000" stroke-width="2"/>
<circle cx="618.45" cy="273.82" r="3.2" fill="#000000" stroke="#000000" stroke-width="0.6"/>
<text x="632.2" y="278.82" font-size="14.5" textLength="25.8" lengthAdjust="spacingAndGlyphs">Dec</text>
<text x="11.4" y="399" font-size="25" textLength="15" lengthAdjust="spacingAndGlyphs">B</text>
<line x1="104" y1="397.8" x2="104" y2="657.07" stroke="#1c1c1c" stroke-width="1.3"/>
<line x1="98.3" y1="656.47" x2="104" y2="656.47" stroke="#1c1c1c" stroke-width="1.3"/>
<text x="88.3" y="661" font-size="15" text-anchor="end">-200</text>
<line x1="98.3" y1="627.8" x2="104" y2="627.8" stroke="#1c1c1c" stroke-width="1.3"/>
<text x="88.3" y="632" font-size="15" text-anchor="end">0</text>
<line x1="98.3" y1="599.12" x2="104" y2="599.12" stroke="#1c1c1c" stroke-width="1.3"/>
<text x="88.3" y="604" font-size="15" text-anchor="end">200</text>
<line x1="98.3" y1="570.45" x2="104" y2="570.45" stroke="#1c1c1c" stroke-width="1.3"/>
<text x="88.3" y="575" font-size="15" text-anchor="end">400</text>
<line x1="98.3" y1="541.77" x2="104" y2="541.77" stroke="#1c1c1c" stroke-width="1.3"/>
<text x="88.3" y="546" font-size="15" text-anchor="end">600</text>
<line x1="98.3" y1="513.1" x2="104" y2="513.1" stroke="#1c1c1c" stroke-width="1.3"/>
<text x="88.3" y="518" font-size="15" text-anchor="end">800</text>
<line x1="98.3" y1="484.42" x2="104" y2="484.42" stroke="#1c1c1c" stroke-width="1.3"/>
<text x="88.3" y="489" font-size="15" text-anchor="end">1000</text>
<line x1="98.3" y1="455.75" x2="104" y2="455.75" stroke="#1c1c1c" stroke-width="1.3"/>
<text x="88.3" y="460" font-size="15" text-anchor="end">1200</text>
<line x1="98.3" y1="427.07" x2="104" y2="427.07" stroke="#1c1c1c" stroke-width="1.3"/>
<text x="88.3" y="432" font-size="15" text-anchor="end">1400</text>
<line x1="98.3" y1="398.4" x2="104" y2="398.4" stroke="#1c1c1c" stroke-width="1.3"/>
<text x="88.3" y="403" font-size="15" text-anchor="end">1600</text>
<line x1="98.3" y1="627.8" x2="595.82" y2="627.8" stroke="#1c1c1c" stroke-width="1.4"/>
<line x1="104" y1="627.8" x2="104" y2="633" stroke="#1c1c1c" stroke-width="1.3"/>
<line x1="131.29" y1="627.8" x2="131.29" y2="633" stroke="#1c1c1c" stroke-width="1.3"/>
<line x1="158.58" y1="627.8" x2="158.58" y2="633" stroke="#1c1c1c" stroke-width="1.3"/>
<line x1="185.87" y1="627.8" x2="185.87" y2="633" stroke="#1c1c1c" stroke-width="1.3"/>
<line x1="213.16" y1="627.8" x2="213.16" y2="633" stroke="#1c1c1c" stroke-width="1.3"/>
<line x1="240.45" y1="627.8" x2="240.45" y2="633" stroke="#1c1c1c" stroke-width="1.3"/>
<line x1="267.74" y1="627.8" x2="267.74" y2="633" stroke="#1c1c1c" stroke-width="1.3"/>
<line x1="295.03" y1="627.8" x2="295.03" y2="633" stroke="#1c1c1c" stroke-width="1.3"/>
<line x1="322.32" y1="627.8" x2="322.32" y2="633" stroke="#1c1c1c" stroke-width="1.3"/>
<line x1="349.61" y1="627.8" x2="349.61" y2="633" stroke="#1c1c1c" stroke-width="1.3"/>
<line x1="376.9" y1="627.8" x2="376.9" y2="633" stroke="#1c1c1c" stroke-width="1.3"/>
<line x1="404.19" y1="627.8" x2="404.19" y2="633" stroke="#1c1c1c" stroke-width="1.3"/>
<line x1="431.48" y1="627.8" x2="431.48" y2="633" stroke="#1c1c1c" stroke-width="1.3"/>
<line x1="458.77" y1="627.8" x2="458.77" y2="633" stroke="#1c1c1c" stroke-width="1.3"/>
<line x1="486.06" y1="627.8" x2="486.06" y2="633" stroke="#1c1c1c" stroke-width="1.3"/>
<line x1="513.35" y1="627.8" x2="513.35" y2="633" stroke="#1c1c1c" stroke-width="1.3"/>
<line x1="540.64" y1="627.8" x2="540.64" y2="633" stroke="#1c1c1c" stroke-width="1.3"/>
<line x1="567.93" y1="627.8" x2="567.93" y2="633" stroke="#1c1c1c" stroke-width="1.3"/>
<line x1="595.22" y1="627.8" x2="595.22" y2="633" stroke="#1c1c1c" stroke-width="1.3"/>
<text x="117.64" y="654.8" font-size="15" text-anchor="middle">4</text>
<text x="144.94" y="654.8" font-size="15" text-anchor="middle">5</text>
<text x="172.22" y="654.8" font-size="15" text-anchor="middle">6</text>
<text x="199.51" y="654.8" font-size="15" text-anchor="middle">7</text>
<text x="226.81" y="654.8" font-size="15" text-anchor="middle">8</text>
<text x="254.09" y="654.8" font-size="15" text-anchor="middle">9</text>
<text x="281.38" y="654.8" font-size="15" text-anchor="middle">10</text>
<text x="308.67" y="654.8" font-size="15" text-anchor="middle">11</text>
<text x="335.97" y="654.8" font-size="15" text-anchor="middle">12</text>
<text x="363.25" y="654.8" font-size="15" text-anchor="middle">13</text>
<text x="390.55" y="654.8" font-size="15" text-anchor="middle">14</text>
<text x="417.83" y="654.8" font-size="15" text-anchor="middle">15</text>
<text x="445.12" y="654.8" font-size="15" text-anchor="middle">16</text>
<text x="472.41" y="654.8" font-size="15" text-anchor="middle">17</text>
<text x="499.7" y="654.8" font-size="15" text-anchor="middle">18</text>
<text x="527" y="654.8" font-size="15" text-anchor="middle">19</text>
<text x="554.28" y="654.8" font-size="15" text-anchor="middle">20</text>
<text x="581.58" y="654.8" font-size="15" text-anchor="middle">21</text>
<text x="272.2" y="718.1" font-size="17" textLength="146" lengthAdjust="spacingAndGlyphs">Time of day (hour)</text>
<text transform="translate(33.9,626.6) rotate(-90)" x="0" y="0" font-size="17" textLength="212" lengthAdjust="spacingAndGlyphs">Average PAR (µmol m<tspan font-size="10" dy="-5.5">-2</tspan><tspan dy="5.5"> s</tspan><tspan font-size="10" dy="-5.5">-1</tspan><tspan dy="5.5">)</tspan></text>
<line x1="172.22" y1="597.5" x2="172.22" y2="621.9" stroke="#666666" stroke-width="1.3"/>
<line x1="169.42" y1="597.5" x2="175.03" y2="597.5" stroke="#666666" stroke-width="1.3"/>
<line x1="169.42" y1="621.9" x2="175.03" y2="621.9" stroke="#666666" stroke-width="1.3"/>
<line x1="199.51" y1="564" x2="199.51" y2="611" stroke="#666666" stroke-width="1.3"/>
<line x1="196.71" y1="564" x2="202.31" y2="564" stroke="#666666" stroke-width="1.3"/>
<line x1="196.71" y1="611" x2="202.31" y2="611" stroke="#666666" stroke-width="1.3"/>
<line x1="226.81" y1="518.4" x2="226.81" y2="597.6" stroke="#666666" stroke-width="1.3"/>
<line x1="224" y1="518.4" x2="229.61" y2="518.4" stroke="#666666" stroke-width="1.3"/>
<line x1="224" y1="597.6" x2="229.61" y2="597.6" stroke="#666666" stroke-width="1.3"/>
<line x1="254.09" y1="485.5" x2="254.09" y2="594.8" stroke="#666666" stroke-width="1.3"/>
<line x1="251.29" y1="485.5" x2="256.89" y2="485.5" stroke="#666666" stroke-width="1.3"/>
<line x1="251.29" y1="594.8" x2="256.89" y2="594.8" stroke="#666666" stroke-width="1.3"/>
<line x1="281.38" y1="457.5" x2="281.38" y2="578.1" stroke="#666666" stroke-width="1.3"/>
<line x1="278.58" y1="457.5" x2="284.19" y2="457.5" stroke="#666666" stroke-width="1.3"/>
<line x1="278.58" y1="578.1" x2="284.19" y2="578.1" stroke="#666666" stroke-width="1.3"/>
<line x1="308.67" y1="450.3" x2="308.67" y2="563.5" stroke="#666666" stroke-width="1.3"/>
<line x1="305.87" y1="450.3" x2="311.47" y2="450.3" stroke="#666666" stroke-width="1.3"/>
<line x1="305.87" y1="563.5" x2="311.47" y2="563.5" stroke="#666666" stroke-width="1.3"/>
<line x1="335.97" y1="447.9" x2="335.97" y2="563.9" stroke="#666666" stroke-width="1.3"/>
<line x1="333.17" y1="447.9" x2="338.77" y2="447.9" stroke="#666666" stroke-width="1.3"/>
<line x1="333.17" y1="563.9" x2="338.77" y2="563.9" stroke="#666666" stroke-width="1.3"/>
<line x1="363.25" y1="443.4" x2="363.25" y2="575.4" stroke="#666666" stroke-width="1.3"/>
<line x1="360.45" y1="443.4" x2="366.06" y2="443.4" stroke="#666666" stroke-width="1.3"/>
<line x1="360.45" y1="575.4" x2="366.06" y2="575.4" stroke="#666666" stroke-width="1.3"/>
<line x1="390.55" y1="449.7" x2="390.55" y2="555.5" stroke="#666666" stroke-width="1.3"/>
<line x1="387.75" y1="449.7" x2="393.35" y2="449.7" stroke="#666666" stroke-width="1.3"/>
<line x1="387.75" y1="555.5" x2="393.35" y2="555.5" stroke="#666666" stroke-width="1.3"/>
<line x1="417.83" y1="448.8" x2="417.83" y2="573.4" stroke="#666666" stroke-width="1.3"/>
<line x1="415.03" y1="448.8" x2="420.63" y2="448.8" stroke="#666666" stroke-width="1.3"/>
<line x1="415.03" y1="573.4" x2="420.63" y2="573.4" stroke="#666666" stroke-width="1.3"/>
<line x1="445.12" y1="480" x2="445.12" y2="593" stroke="#666666" stroke-width="1.3"/>
<line x1="442.32" y1="480" x2="447.93" y2="480" stroke="#666666" stroke-width="1.3"/>
<line x1="442.32" y1="593" x2="447.93" y2="593" stroke="#666666" stroke-width="1.3"/>
<line x1="472.41" y1="511" x2="472.41" y2="601" stroke="#666666" stroke-width="1.3"/>
<line x1="469.61" y1="511" x2="475.21" y2="511" stroke="#666666" stroke-width="1.3"/>
<line x1="469.61" y1="601" x2="475.21" y2="601" stroke="#666666" stroke-width="1.3"/>
<line x1="499.7" y1="550.5" x2="499.7" y2="612.7" stroke="#666666" stroke-width="1.3"/>
<line x1="496.9" y1="550.5" x2="502.5" y2="550.5" stroke="#666666" stroke-width="1.3"/>
<line x1="496.9" y1="612.7" x2="502.5" y2="612.7" stroke="#666666" stroke-width="1.3"/>
<line x1="527" y1="585.5" x2="527" y2="620.7" stroke="#666666" stroke-width="1.3"/>
<line x1="524.2" y1="585.5" x2="529.79" y2="585.5" stroke="#666666" stroke-width="1.3"/>
<line x1="524.2" y1="620.7" x2="529.79" y2="620.7" stroke="#666666" stroke-width="1.3"/>
<line x1="554.28" y1="613" x2="554.28" y2="626.8" stroke="#666666" stroke-width="1.3"/>
<line x1="551.49" y1="613" x2="557.08" y2="613" stroke="#666666" stroke-width="1.3"/>
<line x1="551.49" y1="626.8" x2="557.08" y2="626.8" stroke="#666666" stroke-width="1.3"/>
<line x1="254.09" y1="621" x2="254.09" y2="627.8" stroke="#666666" stroke-width="1.3"/>
<line x1="251.29" y1="621" x2="256.89" y2="621" stroke="#666666" stroke-width="1.3"/>
<line x1="251.29" y1="627.8" x2="256.89" y2="627.8" stroke="#666666" stroke-width="1.3"/>
<line x1="281.38" y1="611.7" x2="281.38" y2="626.9" stroke="#666666" stroke-width="1.3"/>
<line x1="278.58" y1="611.7" x2="284.19" y2="611.7" stroke="#666666" stroke-width="1.3"/>
<line x1="278.58" y1="626.9" x2="284.19" y2="626.9" stroke="#666666" stroke-width="1.3"/>
<line x1="308.67" y1="592.5" x2="308.67" y2="627.6" stroke="#666666" stroke-width="1.3"/>
<line x1="305.87" y1="592.5" x2="311.47" y2="592.5" stroke="#666666" stroke-width="1.3"/>
<line x1="305.87" y1="627.6" x2="311.47" y2="627.6" stroke="#666666" stroke-width="1.3"/>
<line x1="335.97" y1="584.1" x2="335.97" y2="626" stroke="#666666" stroke-width="1.3"/>
<line x1="333.17" y1="584.1" x2="338.77" y2="584.1" stroke="#666666" stroke-width="1.3"/>
<line x1="333.17" y1="626" x2="338.77" y2="626" stroke="#666666" stroke-width="1.3"/>
<line x1="363.25" y1="584.3" x2="363.25" y2="625" stroke="#666666" stroke-width="1.3"/>
<line x1="360.45" y1="584.3" x2="366.06" y2="584.3" stroke="#666666" stroke-width="1.3"/>
<line x1="360.45" y1="625" x2="366.06" y2="625" stroke="#666666" stroke-width="1.3"/>
<line x1="390.55" y1="599.8" x2="390.55" y2="624.8" stroke="#666666" stroke-width="1.3"/>
<line x1="387.75" y1="599.8" x2="393.35" y2="599.8" stroke="#666666" stroke-width="1.3"/>
<line x1="387.75" y1="624.8" x2="393.35" y2="624.8" stroke="#666666" stroke-width="1.3"/>
<line x1="417.83" y1="613.2" x2="417.83" y2="626" stroke="#666666" stroke-width="1.3"/>
<line x1="415.03" y1="613.2" x2="420.63" y2="613.2" stroke="#666666" stroke-width="1.3"/>
<line x1="415.03" y1="626" x2="420.63" y2="626" stroke="#666666" stroke-width="1.3"/>
<polyline points="199.51,627.8 226.81,627.8 254.09,623.9 281.38,613.7 308.67,598.9 335.97,592.3 363.25,593.1 390.55,598.3 417.83,608.1 445.12,621 472.41,627 499.7,627.8" fill="none" stroke="#9DC3E6" stroke-width="2" stroke-linejoin="round"/>
<circle cx="199.51" cy="627.8" r="3.15" fill="#9DC3E6" stroke="#9DC3E6" stroke-width="0.6"/>
<circle cx="226.81" cy="627.8" r="3.15" fill="#9DC3E6" stroke="#9DC3E6" stroke-width="0.6"/>
<circle cx="254.09" cy="623.9" r="3.15" fill="#9DC3E6" stroke="#9DC3E6" stroke-width="0.6"/>
<circle cx="281.38" cy="613.7" r="3.15" fill="#9DC3E6" stroke="#9DC3E6" stroke-width="0.6"/>
<circle cx="308.67" cy="598.9" r="3.15" fill="#9DC3E6" stroke="#9DC3E6" stroke-width="0.6"/>
<circle cx="335.97" cy="592.3" r="3.15" fill="#9DC3E6" stroke="#9DC3E6" stroke-width="0.6"/>
<circle cx="363.25" cy="593.1" r="3.15" fill="#9DC3E6" stroke="#9DC3E6" stroke-width="0.6"/>
<circle cx="390.55" cy="598.3" r="3.15" fill="#9DC3E6" stroke="#9DC3E6" stroke-width="0.6"/>
<circle cx="417.83" cy="608.1" r="3.15" fill="#9DC3E6" stroke="#9DC3E6" stroke-width="0.6"/>
<circle cx="445.12" cy="621" r="3.15" fill="#9DC3E6" stroke="#9DC3E6" stroke-width="0.6"/>
<circle cx="472.41" cy="627" r="3.15" fill="#9DC3E6" stroke="#9DC3E6" stroke-width="0.6"/>
<circle cx="499.7" cy="627.8" r="3.15" fill="#9DC3E6" stroke="#9DC3E6" stroke-width="0.6"/>
<polyline points="199.51,627.6 226.81,623.5 254.09,612.4 281.38,596.6 308.67,584.4 335.97,577.3 363.25,573.2 390.55,576.9 417.83,592.7 445.12,606.1 472.41,620.4 499.7,627.5" fill="none" stroke="#00B0F0" stroke-width="2" stroke-linejoin="round"/>
<circle cx="199.51" cy="627.6" r="3.15" fill="#00B0F0" stroke="#00B0F0" stroke-width="0.6"/>
<circle cx="226.81" cy="623.5" r="3.15" fill="#00B0F0" stroke="#00B0F0" stroke-width="0.6"/>
<circle cx="254.09" cy="612.4" r="3.15" fill="#00B0F0" stroke="#00B0F0" stroke-width="0.6"/>
<circle cx="281.38" cy="596.6" r="3.15" fill="#00B0F0" stroke="#00B0F0" stroke-width="0.6"/>
<circle cx="308.67" cy="584.4" r="3.15" fill="#00B0F0" stroke="#00B0F0" stroke-width="0.6"/>
<circle cx="335.97" cy="577.3" r="3.15" fill="#00B0F0" stroke="#00B0F0" stroke-width="0.6"/>
<circle cx="363.25" cy="573.2" r="3.15" fill="#00B0F0" stroke="#00B0F0" stroke-width="0.6"/>
<circle cx="390.55" cy="576.9" r="3.15" fill="#00B0F0" stroke="#00B0F0" stroke-width="0.6"/>
<circle cx="417.83" cy="592.7" r="3.15" fill="#00B0F0" stroke="#00B0F0" stroke-width="0.6"/>
<circle cx="445.12" cy="606.1" r="3.15" fill="#00B0F0" stroke="#00B0F0" stroke-width="0.6"/>
<circle cx="472.41" cy="620.4" r="3.15" fill="#00B0F0" stroke="#00B0F0" stroke-width="0.6"/>
<circle cx="499.7" cy="627.5" r="3.15" fill="#00B0F0" stroke="#00B0F0" stroke-width="0.6"/>
<polyline points="172.22,627.6 199.51,623.1 226.81,611.4 254.09,588.5 281.38,575 308.67,555.7 335.97,541.4 363.25,542.5 390.55,555.9 417.83,560.3 445.12,584.5 472.41,604.3 499.7,621.6 527,626.8" fill="none" stroke="#0070C0" stroke-width="2" stroke-linejoin="round"/>
<circle cx="172.22" cy="627.6" r="3.15" fill="#0070C0" stroke="#0070C0" stroke-width="0.6"/>
<circle cx="199.51" cy="623.1" r="3.15" fill="#0070C0" stroke="#0070C0" stroke-width="0.6"/>
<circle cx="226.81" cy="611.4" r="3.15" fill="#0070C0" stroke="#0070C0" stroke-width="0.6"/>
<circle cx="254.09" cy="588.5" r="3.15" fill="#0070C0" stroke="#0070C0" stroke-width="0.6"/>
<circle cx="281.38" cy="575" r="3.15" fill="#0070C0" stroke="#0070C0" stroke-width="0.6"/>
<circle cx="308.67" cy="555.7" r="3.15" fill="#0070C0" stroke="#0070C0" stroke-width="0.6"/>
<circle cx="335.97" cy="541.4" r="3.15" fill="#0070C0" stroke="#0070C0" stroke-width="0.6"/>
<circle cx="363.25" cy="542.5" r="3.15" fill="#0070C0" stroke="#0070C0" stroke-width="0.6"/>
<circle cx="390.55" cy="555.9" r="3.15" fill="#0070C0" stroke="#0070C0" stroke-width="0.6"/>
<circle cx="417.83" cy="560.3" r="3.15" fill="#0070C0" stroke="#0070C0" stroke-width="0.6"/>
<circle cx="445.12" cy="584.5" r="3.15" fill="#0070C0" stroke="#0070C0" stroke-width="0.6"/>
<circle cx="472.41" cy="604.3" r="3.15" fill="#0070C0" stroke="#0070C0" stroke-width="0.6"/>
<circle cx="499.7" cy="621.6" r="3.15" fill="#0070C0" stroke="#0070C0" stroke-width="0.6"/>
<circle cx="527" cy="626.8" r="3.15" fill="#0070C0" stroke="#0070C0" stroke-width="0.6"/>
<polyline points="117.64,627.7 144.94,627.2 172.22,622 199.51,602.1 226.81,570.8 254.09,535.5 281.38,516.3 308.67,511 335.97,494.2 363.25,504 390.55,517.2 417.83,531.7 445.12,545.6 472.41,570.2 499.7,597.6 527,619.9 554.28,627.3 581.58,627.7" fill="none" stroke="#A9D18E" stroke-width="2" stroke-linejoin="round"/>
<circle cx="117.64" cy="627.7" r="3.15" fill="#A9D18E" stroke="#A9D18E" stroke-width="0.6"/>
<circle cx="144.94" cy="627.2" r="3.15" fill="#A9D18E" stroke="#A9D18E" stroke-width="0.6"/>
<circle cx="172.22" cy="622" r="3.15" fill="#A9D18E" stroke="#A9D18E" stroke-width="0.6"/>
<circle cx="199.51" cy="602.1" r="3.15" fill="#A9D18E" stroke="#A9D18E" stroke-width="0.6"/>
<circle cx="226.81" cy="570.8" r="3.15" fill="#A9D18E" stroke="#A9D18E" stroke-width="0.6"/>
<circle cx="254.09" cy="535.5" r="3.15" fill="#A9D18E" stroke="#A9D18E" stroke-width="0.6"/>
<circle cx="281.38" cy="516.3" r="3.15" fill="#A9D18E" stroke="#A9D18E" stroke-width="0.6"/>
<circle cx="308.67" cy="511" r="3.15" fill="#A9D18E" stroke="#A9D18E" stroke-width="0.6"/>
<circle cx="335.97" cy="494.2" r="3.15" fill="#A9D18E" stroke="#A9D18E" stroke-width="0.6"/>
<circle cx="363.25" cy="504" r="3.15" fill="#A9D18E" stroke="#A9D18E" stroke-width="0.6"/>
<circle cx="390.55" cy="517.2" r="3.15" fill="#A9D18E" stroke="#A9D18E" stroke-width="0.6"/>
<circle cx="417.83" cy="531.7" r="3.15" fill="#A9D18E" stroke="#A9D18E" stroke-width="0.6"/>
<circle cx="445.12" cy="545.6" r="3.15" fill="#A9D18E" stroke="#A9D18E" stroke-width="0.6"/>
<circle cx="472.41" cy="570.2" r="3.15" fill="#A9D18E" stroke="#A9D18E" stroke-width="0.6"/>
<circle cx="499.7" cy="597.6" r="3.15" fill="#A9D18E" stroke="#A9D18E" stroke-width="0.6"/>
<circle cx="527" cy="619.9" r="3.15" fill="#A9D18E" stroke="#A9D18E" stroke-width="0.6"/>
<circle cx="554.28" cy="627.3" r="3.15" fill="#A9D18E" stroke="#A9D18E" stroke-width="0.6"/>
<circle cx="581.58" cy="627.7" r="3.15" fill="#A9D18E" stroke="#A9D18E" stroke-width="0.6"/>
<polyline points="117.64,627.3 144.94,620.2 172.22,600.7 199.51,573.6 226.81,540.7 254.09,500 281.38,478.5 308.67,448.7 335.97,445 363.25,439.9 390.55,436 417.83,447.7 445.12,479.2 472.41,522.5 499.7,564.3 527,599 554.28,621 581.58,627.6" fill="none" stroke="#92D050" stroke-width="2" stroke-linejoin="round"/>
<circle cx="117.64" cy="627.3" r="3.15" fill="#92D050" stroke="#92D050" stroke-width="0.6"/>
<circle cx="144.94" cy="620.2" r="3.15" fill="#92D050" stroke="#92D050" stroke-width="0.6"/>
<circle cx="172.22" cy="600.7" r="3.15" fill="#92D050" stroke="#92D050" stroke-width="0.6"/>
<circle cx="199.51" cy="573.6" r="3.15" fill="#92D050" stroke="#92D050" stroke-width="0.6"/>
<circle cx="226.81" cy="540.7" r="3.15" fill="#92D050" stroke="#92D050" stroke-width="0.6"/>
<circle cx="254.09" cy="500" r="3.15" fill="#92D050" stroke="#92D050" stroke-width="0.6"/>
<circle cx="281.38" cy="478.5" r="3.15" fill="#92D050" stroke="#92D050" stroke-width="0.6"/>
<circle cx="308.67" cy="448.7" r="3.15" fill="#92D050" stroke="#92D050" stroke-width="0.6"/>
<circle cx="335.97" cy="445" r="3.15" fill="#92D050" stroke="#92D050" stroke-width="0.6"/>
<circle cx="363.25" cy="439.9" r="3.15" fill="#92D050" stroke="#92D050" stroke-width="0.6"/>
<circle cx="390.55" cy="436" r="3.15" fill="#92D050" stroke="#92D050" stroke-width="0.6"/>
<circle cx="417.83" cy="447.7" r="3.15" fill="#92D050" stroke="#92D050" stroke-width="0.6"/>
<circle cx="445.12" cy="479.2" r="3.15" fill="#92D050" stroke="#92D050" stroke-width="0.6"/>
<circle cx="472.41" cy="522.5" r="3.15" fill="#92D050" stroke="#92D050" stroke-width="0.6"/>
<circle cx="499.7" cy="564.3" r="3.15" fill="#92D050" stroke="#92D050" stroke-width="0.6"/>
<circle cx="527" cy="599" r="3.15" fill="#92D050" stroke="#92D050" stroke-width="0.6"/>
<circle cx="554.28" cy="621" r="3.15" fill="#92D050" stroke="#92D050" stroke-width="0.6"/>
<circle cx="581.58" cy="627.6" r="3.15" fill="#92D050" stroke="#92D050" stroke-width="0.6"/>
<polyline points="117.64,626.6 144.94,616.7 172.22,592.7 199.51,563.2 226.81,529.3 254.09,488 281.38,460.6 308.67,440.5 335.97,421.8 363.25,417.4 390.55,434.3 417.83,452.4 445.12,479.2 472.41,512 499.7,547 527,585 554.28,613.8 581.58,627.5" fill="none" stroke="#70AD47" stroke-width="2" stroke-linejoin="round"/>
<circle cx="117.64" cy="626.6" r="3.15" fill="#70AD47" stroke="#70AD47" stroke-width="0.6"/>
<circle cx="144.94" cy="616.7" r="3.15" fill="#70AD47" stroke="#70AD47" stroke-width="0.6"/>
<circle cx="172.22" cy="592.7" r="3.15" fill="#70AD47" stroke="#70AD47" stroke-width="0.6"/>
<circle cx="199.51" cy="563.2" r="3.15" fill="#70AD47" stroke="#70AD47" stroke-width="0.6"/>
<circle cx="226.81" cy="529.3" r="3.15" fill="#70AD47" stroke="#70AD47" stroke-width="0.6"/>
<circle cx="254.09" cy="488" r="3.15" fill="#70AD47" stroke="#70AD47" stroke-width="0.6"/>
<circle cx="281.38" cy="460.6" r="3.15" fill="#70AD47" stroke="#70AD47" stroke-width="0.6"/>
<circle cx="308.67" cy="440.5" r="3.15" fill="#70AD47" stroke="#70AD47" stroke-width="0.6"/>
<circle cx="335.97" cy="421.8" r="3.15" fill="#70AD47" stroke="#70AD47" stroke-width="0.6"/>
<circle cx="363.25" cy="417.4" r="3.15" fill="#70AD47" stroke="#70AD47" stroke-width="0.6"/>
<circle cx="390.55" cy="434.3" r="3.15" fill="#70AD47" stroke="#70AD47" stroke-width="0.6"/>
<circle cx="417.83" cy="452.4" r="3.15" fill="#70AD47" stroke="#70AD47" stroke-width="0.6"/>
<circle cx="445.12" cy="479.2" r="3.15" fill="#70AD47" stroke="#70AD47" stroke-width="0.6"/>
<circle cx="472.41" cy="512" r="3.15" fill="#70AD47" stroke="#70AD47" stroke-width="0.6"/>
<circle cx="499.7" cy="547" r="3.15" fill="#70AD47" stroke="#70AD47" stroke-width="0.6"/>
<circle cx="527" cy="585" r="3.15" fill="#70AD47" stroke="#70AD47" stroke-width="0.6"/>
<circle cx="554.28" cy="613.8" r="3.15" fill="#70AD47" stroke="#70AD47" stroke-width="0.6"/>
<circle cx="581.58" cy="627.5" r="3.15" fill="#70AD47" stroke="#70AD47" stroke-width="0.6"/>
<polyline points="117.64,627.6 144.94,622.6 172.22,609.7 199.51,587.5 226.81,558 254.09,540.2 281.38,517.3 308.67,506.9 335.97,505.9 363.25,509.4 390.55,502.6 417.83,511.1 445.12,533.5 472.41,556 499.7,581.6 527,603.1 554.28,619.9 581.58,627.6" fill="none" stroke="#FFFF00" stroke-width="2" stroke-linejoin="round"/>
<circle cx="117.64" cy="627.6" r="3.15" fill="#FFFF00" stroke="#FFFF00" stroke-width="0.6"/>
<circle cx="144.94" cy="622.6" r="3.15" fill="#FFFF00" stroke="#FFFF00" stroke-width="0.6"/>
<circle cx="172.22" cy="609.7" r="3.15" fill="#FFFF00" stroke="#FFFF00" stroke-width="0.6"/>
<circle cx="199.51" cy="587.5" r="3.15" fill="#FFFF00" stroke="#FFFF00" stroke-width="0.6"/>
<circle cx="226.81" cy="558" r="3.15" fill="#FFFF00" stroke="#FFFF00" stroke-width="0.6"/>
<circle cx="254.09" cy="540.2" r="3.15" fill="#FFFF00" stroke="#FFFF00" stroke-width="0.6"/>
<circle cx="281.38" cy="517.3" r="3.15" fill="#FFFF00" stroke="#FFFF00" stroke-width="0.6"/>
<circle cx="308.67" cy="506.9" r="3.15" fill="#FFFF00" stroke="#FFFF00" stroke-width="0.6"/>
<circle cx="335.97" cy="505.9" r="3.15" fill="#FFFF00" stroke="#FFFF00" stroke-width="0.6"/>
<circle cx="363.25" cy="509.4" r="3.15" fill="#FFFF00" stroke="#FFFF00" stroke-width="0.6"/>
<circle cx="390.55" cy="502.6" r="3.15" fill="#FFFF00" stroke="#FFFF00" stroke-width="0.6"/>
<circle cx="417.83" cy="511.1" r="3.15" fill="#FFFF00" stroke="#FFFF00" stroke-width="0.6"/>
<circle cx="445.12" cy="533.5" r="3.15" fill="#FFFF00" stroke="#FFFF00" stroke-width="0.6"/>
<circle cx="472.41" cy="556" r="3.15" fill="#FFFF00" stroke="#FFFF00" stroke-width="0.6"/>
<circle cx="499.7" cy="581.6" r="3.15" fill="#FFFF00" stroke="#FFFF00" stroke-width="0.6"/>
<circle cx="527" cy="603.1" r="3.15" fill="#FFFF00" stroke="#FFFF00" stroke-width="0.6"/>
<circle cx="554.28" cy="619.9" r="3.15" fill="#FFFF00" stroke="#FFFF00" stroke-width="0.6"/>
<circle cx="581.58" cy="627.6" r="3.15" fill="#FFFF00" stroke="#FFFF00" stroke-width="0.6"/>
<polyline points="144.94,626.4 172.22,618.8 199.51,598.9 226.81,576.5 254.09,554 281.38,540.2 308.67,516.4 335.97,499.9 363.25,504.8 390.55,509.1 417.83,522.2 445.12,534.1 472.41,558.5 499.7,590.3 527,615 554.28,625.9" fill="none" stroke="#FFC000" stroke-width="2" stroke-linejoin="round"/>
<circle cx="144.94" cy="626.4" r="3.15" fill="#FFC000" stroke="#FFC000" stroke-width="0.6"/>
<circle cx="172.22" cy="618.8" r="3.15" fill="#FFC000" stroke="#FFC000" stroke-width="0.6"/>
<circle cx="199.51" cy="598.9" r="3.15" fill="#FFC000" stroke="#FFC000" stroke-width="0.6"/>
<circle cx="226.81" cy="576.5" r="3.15" fill="#FFC000" stroke="#FFC000" stroke-width="0.6"/>
<circle cx="254.09" cy="554" r="3.15" fill="#FFC000" stroke="#FFC000" stroke-width="0.6"/>
<circle cx="281.38" cy="540.2" r="3.15" fill="#FFC000" stroke="#FFC000" stroke-width="0.6"/>
<circle cx="308.67" cy="516.4" r="3.15" fill="#FFC000" stroke="#FFC000" stroke-width="0.6"/>
<circle cx="335.97" cy="499.9" r="3.15" fill="#FFC000" stroke="#FFC000" stroke-width="0.6"/>
<circle cx="363.25" cy="504.8" r="3.15" fill="#FFC000" stroke="#FFC000" stroke-width="0.6"/>
<circle cx="390.55" cy="509.1" r="3.15" fill="#FFC000" stroke="#FFC000" stroke-width="0.6"/>
<circle cx="417.83" cy="522.2" r="3.15" fill="#FFC000" stroke="#FFC000" stroke-width="0.6"/>
<circle cx="445.12" cy="534.1" r="3.15" fill="#FFC000" stroke="#FFC000" stroke-width="0.6"/>
<circle cx="472.41" cy="558.5" r="3.15" fill="#FFC000" stroke="#FFC000" stroke-width="0.6"/>
<circle cx="499.7" cy="590.3" r="3.15" fill="#FFC000" stroke="#FFC000" stroke-width="0.6"/>
<circle cx="527" cy="615" r="3.15" fill="#FFC000" stroke="#FFC000" stroke-width="0.6"/>
<circle cx="554.28" cy="625.9" r="3.15" fill="#FFC000" stroke="#FFC000" stroke-width="0.6"/>
<polyline points="172.22,625.5 199.51,614.8 226.81,590.8 254.09,566.1 281.38,544.4 308.67,534.1 335.97,519.1 363.25,521.8 390.55,527.6 417.83,547.1 445.12,563.6 472.41,588.9 499.7,614.6 527,625.2" fill="none" stroke="#C55A11" stroke-width="2" stroke-linejoin="round"/>
<circle cx="172.22" cy="625.5" r="3.15" fill="#C55A11" stroke="#C55A11" stroke-width="0.6"/>
<circle cx="199.51" cy="614.8" r="3.15" fill="#C55A11" stroke="#C55A11" stroke-width="0.6"/>
<circle cx="226.81" cy="590.8" r="3.15" fill="#C55A11" stroke="#C55A11" stroke-width="0.6"/>
<circle cx="254.09" cy="566.1" r="3.15" fill="#C55A11" stroke="#C55A11" stroke-width="0.6"/>
<circle cx="281.38" cy="544.4" r="3.15" fill="#C55A11" stroke="#C55A11" stroke-width="0.6"/>
<circle cx="308.67" cy="534.1" r="3.15" fill="#C55A11" stroke="#C55A11" stroke-width="0.6"/>
<circle cx="335.97" cy="519.1" r="3.15" fill="#C55A11" stroke="#C55A11" stroke-width="0.6"/>
<circle cx="363.25" cy="521.8" r="3.15" fill="#C55A11" stroke="#C55A11" stroke-width="0.6"/>
<circle cx="390.55" cy="527.6" r="3.15" fill="#C55A11" stroke="#C55A11" stroke-width="0.6"/>
<circle cx="417.83" cy="547.1" r="3.15" fill="#C55A11" stroke="#C55A11" stroke-width="0.6"/>
<circle cx="445.12" cy="563.6" r="3.15" fill="#C55A11" stroke="#C55A11" stroke-width="0.6"/>
<circle cx="472.41" cy="588.9" r="3.15" fill="#C55A11" stroke="#C55A11" stroke-width="0.6"/>
<circle cx="499.7" cy="614.6" r="3.15" fill="#C55A11" stroke="#C55A11" stroke-width="0.6"/>
<circle cx="527" cy="625.2" r="3.15" fill="#C55A11" stroke="#C55A11" stroke-width="0.6"/>
<polyline points="199.51,626.6 226.81,617.3 254.09,599.7 281.38,585.8 308.67,576.9 335.97,571.1 363.25,569.1 390.55,575.4 417.83,591.5 445.12,609.3 472.41,622.2 499.7,627.8" fill="none" stroke="#A5A5A5" stroke-width="2" stroke-linejoin="round"/>
<circle cx="199.51" cy="626.6" r="3.15" fill="#C4C4C4" stroke="#A5A5A5" stroke-width="0.6"/>
<circle cx="226.81" cy="617.3" r="3.15" fill="#C4C4C4" stroke="#A5A5A5" stroke-width="0.6"/>
<circle cx="254.09" cy="599.7" r="3.15" fill="#C4C4C4" stroke="#A5A5A5" stroke-width="0.6"/>
<circle cx="281.38" cy="585.8" r="3.15" fill="#C4C4C4" stroke="#A5A5A5" stroke-width="0.6"/>
<circle cx="308.67" cy="576.9" r="3.15" fill="#C4C4C4" stroke="#A5A5A5" stroke-width="0.6"/>
<circle cx="335.97" cy="571.1" r="3.15" fill="#C4C4C4" stroke="#A5A5A5" stroke-width="0.6"/>
<circle cx="363.25" cy="569.1" r="3.15" fill="#C4C4C4" stroke="#A5A5A5" stroke-width="0.6"/>
<circle cx="390.55" cy="575.4" r="3.15" fill="#C4C4C4" stroke="#A5A5A5" stroke-width="0.6"/>
<circle cx="417.83" cy="591.5" r="3.15" fill="#C4C4C4" stroke="#A5A5A5" stroke-width="0.6"/>
<circle cx="445.12" cy="609.3" r="3.15" fill="#C4C4C4" stroke="#A5A5A5" stroke-width="0.6"/>
<circle cx="472.41" cy="622.2" r="3.15" fill="#C4C4C4" stroke="#A5A5A5" stroke-width="0.6"/>
<circle cx="499.7" cy="627.8" r="3.15" fill="#C4C4C4" stroke="#A5A5A5" stroke-width="0.6"/>
<polyline points="226.81,627 254.09,618.6 281.38,604.4 308.67,589 335.97,587.8 363.25,589.6 390.55,599.1 417.83,611.4 445.12,623.1 472.41,627.8" fill="none" stroke="#7F7F7F" stroke-width="2" stroke-linejoin="round"/>
<circle cx="226.81" cy="627" r="3.15" fill="#7F7F7F" stroke="#7F7F7F" stroke-width="0.6"/>
<circle cx="254.09" cy="618.6" r="3.15" fill="#7F7F7F" stroke="#7F7F7F" stroke-width="0.6"/>
<circle cx="281.38" cy="604.4" r="3.15" fill="#7F7F7F" stroke="#7F7F7F" stroke-width="0.6"/>
<circle cx="308.67" cy="589" r="3.15" fill="#7F7F7F" stroke="#7F7F7F" stroke-width="0.6"/>
<circle cx="335.97" cy="587.8" r="3.15" fill="#7F7F7F" stroke="#7F7F7F" stroke-width="0.6"/>
<circle cx="363.25" cy="589.6" r="3.15" fill="#7F7F7F" stroke="#7F7F7F" stroke-width="0.6"/>
<circle cx="390.55" cy="599.1" r="3.15" fill="#7F7F7F" stroke="#7F7F7F" stroke-width="0.6"/>
<circle cx="417.83" cy="611.4" r="3.15" fill="#7F7F7F" stroke="#7F7F7F" stroke-width="0.6"/>
<circle cx="445.12" cy="623.1" r="3.15" fill="#7F7F7F" stroke="#7F7F7F" stroke-width="0.6"/>
<circle cx="472.41" cy="627.8" r="3.15" fill="#7F7F7F" stroke="#7F7F7F" stroke-width="0.6"/>
<polyline points="226.81,627.7 254.09,625.4 281.38,619.3 308.67,610.6 335.97,605.6 363.25,605.1 390.55,612.3 417.83,619.6 445.12,626.3" fill="none" stroke="#000000" stroke-width="2" stroke-linejoin="round"/>
<circle cx="226.81" cy="627.7" r="3.15" fill="#000000" stroke="#000000" stroke-width="0.6"/>
<circle cx="254.09" cy="625.4" r="3.15" fill="#000000" stroke="#000000" stroke-width="0.6"/>
<circle cx="281.38" cy="619.3" r="3.15" fill="#000000" stroke="#000000" stroke-width="0.6"/>
<circle cx="308.67" cy="610.6" r="3.15" fill="#000000" stroke="#000000" stroke-width="0.6"/>
<circle cx="335.97" cy="605.6" r="3.15" fill="#000000" stroke="#000000" stroke-width="0.6"/>
<circle cx="363.25" cy="605.1" r="3.15" fill="#000000" stroke="#000000" stroke-width="0.6"/>
<circle cx="390.55" cy="612.3" r="3.15" fill="#000000" stroke="#000000" stroke-width="0.6"/>
<circle cx="417.83" cy="619.6" r="3.15" fill="#000000" stroke="#000000" stroke-width="0.6"/>
<circle cx="445.12" cy="626.3" r="3.15" fill="#000000" stroke="#000000" stroke-width="0.6"/>
<line x1="606.8" y1="410.6" x2="631" y2="410.6" stroke="#9DC3E6" stroke-width="2"/>
<circle cx="618.9" cy="410.6" r="3.2" fill="#9DC3E6" stroke="#9DC3E6" stroke-width="0.6"/>
<text x="632.6" y="415.6" font-size="14.5" textLength="23.3" lengthAdjust="spacingAndGlyphs">Jan</text>
<line x1="606.8" y1="431.4" x2="631" y2="431.4" stroke="#00B0F0" stroke-width="2"/>
<circle cx="618.9" cy="431.4" r="3.2" fill="#00B0F0" stroke="#00B0F0" stroke-width="0.6"/>
<text x="632.6" y="436.4" font-size="14.5" textLength="24.9" lengthAdjust="spacingAndGlyphs">Feb</text>
<line x1="606.8" y1="452.2" x2="631" y2="452.2" stroke="#0070C0" stroke-width="2"/>
<circle cx="618.9" cy="452.2" r="3.2" fill="#0070C0" stroke="#0070C0" stroke-width="0.6"/>
<text x="632.6" y="457.2" font-size="14.5" textLength="28.2" lengthAdjust="spacingAndGlyphs">Mar</text>
<line x1="606.8" y1="473" x2="631" y2="473" stroke="#A9D18E" stroke-width="2"/>
<circle cx="618.9" cy="473" r="3.2" fill="#A9D18E" stroke="#A9D18E" stroke-width="0.6"/>
<text x="632.6" y="478" font-size="14.5" textLength="25.4" lengthAdjust="spacingAndGlyphs">Apr</text>
<line x1="606.8" y1="493.8" x2="631" y2="493.8" stroke="#92D050" stroke-width="2"/>
<circle cx="618.9" cy="493.8" r="3.2" fill="#92D050" stroke="#92D050" stroke-width="0.6"/>
<text x="632.6" y="498.8" font-size="14.5" textLength="30.9" lengthAdjust="spacingAndGlyphs">May</text>
<line x1="606.8" y1="514.6" x2="631" y2="514.6" stroke="#70AD47" stroke-width="2"/>
<circle cx="618.9" cy="514.6" r="3.2" fill="#70AD47" stroke="#70AD47" stroke-width="0.6"/>
<text x="632.6" y="519.6" font-size="14.5" textLength="23.5" lengthAdjust="spacingAndGlyphs">Jun</text>
<line x1="606.8" y1="535.4" x2="631" y2="535.4" stroke="#FFFF00" stroke-width="2"/>
<circle cx="618.9" cy="535.4" r="3.2" fill="#FFFF00" stroke="#FFFF00" stroke-width="0.6"/>
<text x="632.6" y="540.4" font-size="14.5" textLength="19.2" lengthAdjust="spacingAndGlyphs">Jul</text>
<line x1="606.8" y1="556.2" x2="631" y2="556.2" stroke="#FFC000" stroke-width="2"/>
<circle cx="618.9" cy="556.2" r="3.2" fill="#FFC000" stroke="#FFC000" stroke-width="0.6"/>
<text x="632.6" y="561.2" font-size="14.5" textLength="27.4" lengthAdjust="spacingAndGlyphs">Aug</text>
<line x1="606.8" y1="577" x2="631" y2="577" stroke="#C55A11" stroke-width="2"/>
<circle cx="618.9" cy="577" r="3.2" fill="#C55A11" stroke="#C55A11" stroke-width="0.6"/>
<text x="632.6" y="582" font-size="14.5" textLength="25.4" lengthAdjust="spacingAndGlyphs">Sep</text>
<line x1="606.8" y1="597.8" x2="631" y2="597.8" stroke="#A5A5A5" stroke-width="2"/>
<circle cx="618.9" cy="597.8" r="3.2" fill="#C4C4C4" stroke="#A5A5A5" stroke-width="0.6"/>
<text x="632.6" y="602.8" font-size="14.5" textLength="24.1" lengthAdjust="spacingAndGlyphs">Oct</text>
<line x1="606.8" y1="618.6" x2="631" y2="618.6" stroke="#7F7F7F" stroke-width="2"/>
<circle cx="618.9" cy="618.6" r="3.2" fill="#7F7F7F" stroke="#7F7F7F" stroke-width="0.6"/>
<text x="632.6" y="623.6" font-size="14.5" textLength="28" lengthAdjust="spacingAndGlyphs">Nov</text>
<line x1="606.8" y1="639.4" x2="631" y2="639.4" stroke="#000000" stroke-width="2"/>
<circle cx="618.9" cy="639.4" r="3.2" fill="#000000" stroke="#000000" stroke-width="0.6"/>
<text x="632.6" y="644.4" font-size="14.5" textLength="25.8" lengthAdjust="spacingAndGlyphs">Dec</text>
</svg></body></html>
